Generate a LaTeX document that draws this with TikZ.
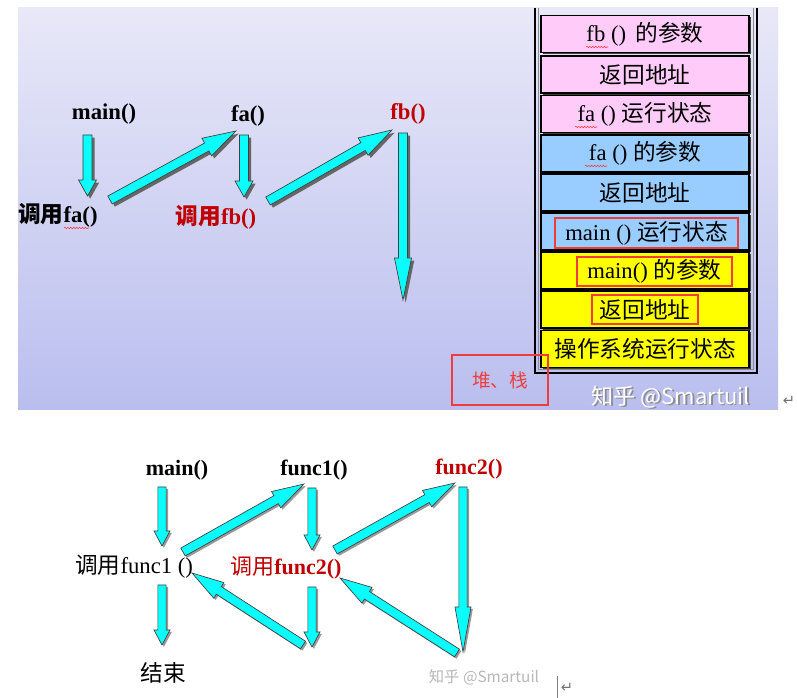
\documentclass[tikz,border=0pt]{standalone}
\usepackage{fontspec}
\setmainfont{Liberation Serif}
\newfontfamily\cjk{Noto Sans CJK SC}
\newfontfamily\djv{DejaVu Sans}
\usetikzlibrary{calc,shadows,decorations.pathmorphing}

\definecolor{bgtop}{RGB}{232,232,248}
\definecolor{bgbot}{RGB}{186,190,238}
\definecolor{arrowc}{RGB}{10,252,252}
\definecolor{pinkc}{RGB}{255,204,250}
\definecolor{bluec}{RGB}{153,204,255}
\definecolor{yellowc}{RGB}{255,255,0}
\definecolor{darkred}{RGB}{192,0,0}
\definecolor{hlred}{RGB}{240,60,60}

% #1 shaft half width, #2 head half width, #3 head length, #4 start, #5 end, #6 shadow offset, #7 shadow colour
\newcommand\barrow[7]{%
  \coordinate (bh) at ($(#5)!#3!(#4)$);
  \begin{scope}[transform canvas={xshift=#6,yshift=-#6}]
    \fill[#7] ($(#4)!#1!90:(#5)$) -- ($(bh)!#1!90:(#5)$) -- ($(bh)!#2!90:(#5)$) -- (#5)
      -- ($(bh)!#2!-90:(#5)$) -- ($(bh)!#1!-90:(#5)$) -- ($(#4)!#1!-90:(#5)$) -- cycle;
  \end{scope}
  \filldraw[fill=arrowc, draw=black!75, line width=0.5pt]
    ($(#4)!#1!90:(#5)$) -- ($(bh)!#1!90:(#5)$) -- ($(bh)!#2!90:(#5)$) -- (#5)
      -- ($(bh)!#2!-90:(#5)$) -- ($(bh)!#1!-90:(#5)$) -- ($(#4)!#1!-90:(#5)$) -- cycle;
}

\tikzset{
  lbl/.style={font=\fontsize{17}{19}\selectfont\bfseries, inner sep=0pt},
  lblb/.style={font=\fontsize{16.5}{18}\selectfont\bfseries, inner sep=0pt},
  lblr/.style={font=\fontsize{17}{19}\selectfont, inner sep=0pt},
  cell/.style={draw=black, line width=0.8pt, minimum width=156pt, minimum height=27.75pt,
    inner sep=0pt, font=\fontsize{17}{19}\selectfont,
    drop shadow={shadow xshift=1.5pt, shadow yshift=-1.5pt, fill=black!75, opacity=1}},
  hlbox/.style={draw=hlred, line width=1.9pt, inner sep=0pt, font=\fontsize{17}{19}\selectfont},
  squig/.style={draw=red!80, line width=0.4pt, decorate,
    decoration={snake, segment length=2.2pt, amplitude=0.5pt}},
}

\begin{document}
\begin{tikzpicture}[x=0.75pt, y=-0.75pt]
\useasboundingbox (0,0) rectangle (797,698);
\fill[white] (0,0) rectangle (797,698);

% top panel background
\shade[top color=bgtop, bottom color=bgbot] (18,8) rectangle (778,410);

% stack frame
\draw[black, line width=2.2pt] (535,8) -- (535,373) -- (757,373) -- (757,8);
\draw[black!45, line width=1pt] (538.5,8) -- (538.5,369.6) -- (753.5,369.6) -- (753.5,8);

% stack cells
\node[cell, fill=pinkc] (r1) at (645,34) {fb ()\, {\cjk 的参数}};
\node[cell, fill=pinkc] (r2) at (645,74.5) {{\cjk 返回地址}};
\node[cell, fill=pinkc] (r3) at (645,114) {fa () {\cjk 运行状态}};
\node[cell, fill=bluec] (r4) at (645,153.5) {fa () {\cjk 的参数}};
\node[cell, fill=bluec] (r5) at (645,192.5) {{\cjk 返回地址}};
\node[cell, fill=bluec] (r6) at (645,231.5) {};
\node[cell, fill=yellowc] (r7) at (645,270.5) {};
\node[cell, fill=yellowc] (r8) at (645,309.5) {};
\node[cell, fill=yellowc] (r9) at (645,349) {{\cjk 操作系统运行状态}};

\node[hlbox, minimum width=137pt, minimum height=22.5pt] (h6) at (646.5,233) {main () {\cjk 运行状态}};
\node[hlbox, minimum width=116pt, minimum height=21.75pt] (h7) at (654.5,271.5) {main() {\cjk 的参数}};
\node[hlbox, minimum width=79.5pt, minimum height=21.75pt] (h8) at (645,309.5) {{\cjk 返回地址}};

% spell-check squiggles
\draw[squig] (586,47) -- (608,47);
\draw[squig] (575,127) -- (597,127);
\draw[squig] (585,166) -- (607,166);
\draw[squig] (64,228) -- (89,228);

% heap/stack label
\node[draw=hlred, line width=1.9pt, minimum width=72pt, minimum height=37.5pt, inner sep=0pt,
  text=hlred, font=\cjk\fontsize{14}{16}\selectfont] (heap) at (500,380) {堆、栈};

% watermark top
\node[font=\cjk\fontsize{16.5}{18}\selectfont, text=black!45] (wm1s) at (672.5,398.5) {知乎 @Smartuil};
\node[font=\cjk\fontsize{16.5}{18}\selectfont, text=white] (wm1) at (671,397) {知乎 @Smartuil};
\node[font=\djv\fontsize{11}{12}\selectfont, text=black!55] (ret1) at (789,401) {↵};

% top labels
\node[lbl] (tmain) at (104,114) {main()};
\node[lbl, anchor=west] (tcallfa) at (18,215) {{\cjk 调用}fa()};
\node[lbl] (tfa) at (248,116) {fa()};
\node[lbl, text=darkred] (tcallfb) at (216,217) {{\cjk 调用}fb()};
\node[lbl, text=darkred] (tfb) at (408,114) {fb()};

% top arrows
\coordinate (a1s) at (87.5,135);  \coordinate (a1e) at (87.5,196);
\coordinate (a2s) at (110,200);   \coordinate (a2e) at (236,131);
\coordinate (a3s) at (244,135);   \coordinate (a3e) at (244,197);
\coordinate (a4s) at (268,201);   \coordinate (a4e) at (392,130);
\coordinate (a5s) at (403,133);   \coordinate (a5e) at (403,300);
\barrow{3.4pt}{6.75pt}{12pt}{a1s}{a1e}{2pt}{black!60}
\barrow{3.4pt}{7.5pt}{25pt}{a2s}{a2e}{2pt}{black!60}
\barrow{3.4pt}{6.75pt}{12pt}{a3s}{a3e}{2pt}{black!60}
\barrow{3.4pt}{7.5pt}{25pt}{a4s}{a4e}{2pt}{black!60}
\barrow{3.4pt}{6.4pt}{31.5pt}{a5s}{a5e}{2pt}{black!60}

% bottom labels
\node[lblb] (bmain) at (177,470) {main()};
\node[lblb] (bf1) at (314,470) {func1()};
\node[lblb, text=darkred] (bf2) at (469,469) {func2()};
\node[lblr, anchor=west] (bcall1) at (75,567) {{\cjk 调用}func1 ()};
\node[lblb, text=darkred, anchor=west] (bcall2) at (230,568) {{\cjk\mdseries 调用}func2()};
\node[lblr] (bend) at (163,673) {{\cjk 结束}};

% bottom arrows
\coordinate (b1s) at (162,487);  \coordinate (b1e) at (162,546);
\coordinate (b2s) at (183,552);  \coordinate (b2e) at (304,484);
\coordinate (b3s) at (312,488);  \coordinate (b3e) at (312,550);
\coordinate (b4s) at (335,550);  \coordinate (b4e) at (455,483);
\coordinate (b5s) at (463,487);  \coordinate (b5e) at (463,652);
\coordinate (b6s) at (457,653);  \coordinate (b6e) at (340,578);
\coordinate (b7s) at (312,587);  \coordinate (b7e) at (312,647);
\coordinate (b8s) at (303,645);  \coordinate (b8e) at (192,573);
\coordinate (b9s) at (162,585);  \coordinate (b9e) at (162,645);
\barrow{3.1pt}{6pt}{11.25pt}{b1s}{b1e}{1.4pt}{black!40}
\barrow{3.4pt}{7pt}{24pt}{b2s}{b2e}{1.4pt}{black!40}
\barrow{3.1pt}{6pt}{11.25pt}{b3s}{b3e}{1.4pt}{black!40}
\barrow{3.4pt}{7pt}{24pt}{b4s}{b4e}{1.4pt}{black!40}
\barrow{3.1pt}{6pt}{33.75pt}{b5s}{b5e}{1.4pt}{black!40}
\barrow{3.4pt}{7pt}{24pt}{b6s}{b6e}{1.4pt}{black!40}
\barrow{3.1pt}{6pt}{11.25pt}{b7s}{b7e}{1.4pt}{black!40}
\barrow{3.4pt}{7pt}{24pt}{b8s}{b8e}{1.4pt}{black!40}
\barrow{3.1pt}{6pt}{11.25pt}{b9s}{b9e}{1.4pt}{black!40}

% bottom watermark and editor marks
\node[font=\cjk\fontsize{11.5}{13}\selectfont, text=black!28] (wm2) at (484,677) {知乎 @Smartuil};
\draw[black!50, line width=0.6pt] (557,676) -- (557,698);
\node[font=\djv\fontsize{11}{12}\selectfont, text=black!55] (ret2) at (567,688) {↵};
\end{tikzpicture}
\end{document}
